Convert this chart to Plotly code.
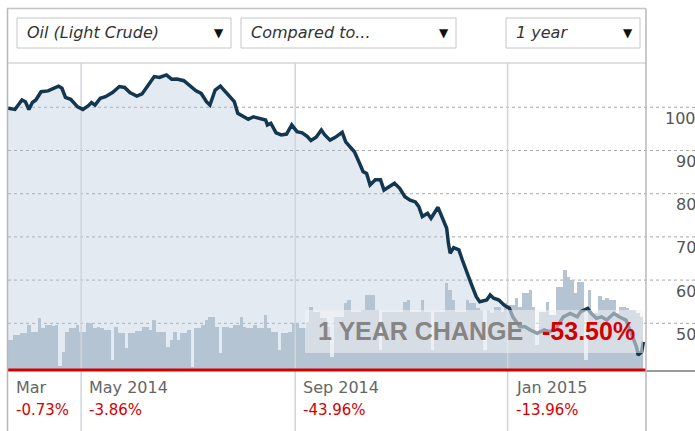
import plotly.graph_objects as go
import pandas as pd

# ---------------- data ----------------
price_dates = [
    "2014-03-20", "2014-03-24", "2014-03-28", "2014-03-30", "2014-04-01", "2014-04-03", "2014-04-05",
    "2014-04-08", "2014-04-12", "2014-04-15", "2014-04-18", "2014-04-20", "2014-04-22", "2014-04-25",
    "2014-04-27", "2014-04-29", "2014-05-02", "2014-05-05", "2014-05-07", "2014-05-09", "2014-05-12",
    "2014-05-15", "2014-05-19", "2014-05-23", "2014-05-26", "2014-05-29", "2014-06-02", "2014-06-05",
    "2014-06-08", "2014-06-12", "2014-06-15", "2014-06-19", "2014-06-22", "2014-06-25", "2014-06-29",
    "2014-07-03", "2014-07-06", "2014-07-09", "2014-07-12", "2014-07-14", "2014-07-17", "2014-07-20",
    "2014-07-23", "2014-07-26", "2014-07-28", "2014-07-30", "2014-08-02", "2014-08-05", "2014-08-08",
    "2014-08-11", "2014-08-15", "2014-08-16", "2014-08-18", "2014-08-21", "2014-08-24", "2014-08-27",
    "2014-08-30", "2014-09-02", "2014-09-05", "2014-09-08", "2014-09-10", "2014-09-13", "2014-09-16",
    "2014-09-18", "2014-09-21", "2014-09-24", "2014-09-28", "2014-09-30", "2014-10-02", "2014-10-05",
    "2014-10-08", "2014-10-10", "2014-10-12", "2014-10-14", "2014-10-17", "2014-10-20", "2014-10-22",
    "2014-10-25", "2014-10-28", "2014-10-31", "2014-11-03", "2014-11-06", "2014-11-09", "2014-11-11",
    "2014-11-13", "2014-11-16", "2014-11-18", "2014-11-22", "2014-11-24", "2014-11-27", "2014-11-28",
    "2014-11-29", "2014-12-01", "2014-12-04", "2014-12-06", "2014-12-08", "2014-12-11", "2014-12-14",
    "2014-12-16", "2014-12-20", "2014-12-22", "2014-12-24", "2014-12-27", "2014-12-30", "2015-01-02",
    "2015-01-04", "2015-01-08", "2015-01-11", "2015-01-14", "2015-01-18", "2015-01-22", "2015-01-25",
    "2015-01-29", "2015-02-02", "2015-02-06", "2015-02-10", "2015-02-12", "2015-02-16", "2015-02-18",
    "2015-02-21", "2015-02-24", "2015-02-27", "2015-03-03", "2015-03-06", "2015-03-10", "2015-03-13",
    "2015-03-16", "2015-03-17", "2015-03-19", "2015-03-20",
]
price_values = [
    99.8, 99.5, 101.7, 101.3, 99.5, 101.1, 101.7,
    103.6, 103.8, 104.4, 104.9, 104.4, 102.3, 101.85,
    101.1, 100.1, 99.5, 100.3, 101.1, 100.5, 102.1,
    102.45, 103.4, 104.8, 104.6, 103.4, 102.6, 103.1,
    104.8, 107.1, 106.9, 107.5, 106.5, 106.55, 106.15,
    104.8, 103.8, 103.2, 101.3, 100.5, 104.0, 104.9,
    103.6, 102.45, 101.3, 98.6, 98.0, 97.2, 97.8,
    97.45, 97.05, 95.9, 96.3, 94.1, 93.6, 93.8,
    95.9, 94.35, 94.1, 93.2, 92.3, 93.05, 94.75,
    93.6, 92.4, 93.05, 94.2, 92.0, 91.0, 89.7,
    87.0, 85.1, 84.7, 82.0, 83.2, 83.2, 80.85,
    81.6, 82.4, 81.25, 79.3, 78.5, 78.1, 77.0,
    74.7, 75.45, 74.3, 76.85, 75.1, 72.0, 68.5,
    66.2, 67.5, 67.0, 64.65, 62.7, 59.25, 56.15,
    55.0, 55.4, 56.55, 55.8, 55.4, 54.2, 53.5,
    51.5, 49.2, 49.2, 48.45, 47.7, 48.45, 48.05,
    48.85, 51.5, 52.3, 51.5, 52.7, 53.45, 52.3,
    51.15, 51.5, 50.75, 52.3, 51.5, 50.75, 47.7,
    44.6, 42.65, 43.4, 45.7,
]

# relative trading volume, one bar per two days starting at volume_start
volume_start = "2014-03-20"
volume_values = [
    30, 30, 35, 35, 37, 37, 45, 38, 38, 52,
    42, 45, 45, 44, 45, 4, 18, 38, 42, 42,
    45, 38, 38, 47, 47, 42, 43, 42, 40, 40,
    10, 43, 37, 37, 22, 37, 37, 39, 39, 43,
    43, 40, 50, 38, 38, 38, 23, 30, 38, 30,
    37, 37, 40, 3, 42, 42, 45, 50, 53, 53,
    43, 17, 43, 43, 42, 45, 45, 53, 43, 42,
    42, 45, 42, 42, 55, 42, 38, 38, 20, 37,
    37, 38, 47, 47, 42, 42, 48, 63, 58, 58,
    52, 52, 43, 13, 53, 53, 53, 67, 70, 58,
    58, 58, 60, 75, 75, 75, 60, 20, 58, 58,
    58, 58, 58, 58, 68, 70, 58, 58, 58, 70,
    58, 58, 20, 58, 58, 58, 87, 80, 70, 58,
    58, 58, 70, 67, 67, 62, 60, 20, 60, 57,
    63, 63, 58, 67, 65, 65, 72, 63, 77, 77,
    80, 63, 25, 58, 58, 68, 55, 55, 83, 83,
    100, 93, 90, 77, 88, 88, 10, 80, 57, 57,
    74, 70, 72, 70, 70, 57, 63, 63, 62, 60,
    60, 57, 53,
]
volume_dates = pd.date_range(volume_start, periods=len(volume_values), freq="2D")

y_ticks = [100, 90, 80, 70, 60, 50]
month_ticks = ["2014-05-01", "2014-09-01", "2015-01-01"]
period_dates = ["2014-03-20", "2014-05-01", "2014-09-01", "2015-01-01"]
period_labels = ["Mar", "May 2014", "Sep 2014", "Jan 2015"]
period_changes = ["-0.73%", "-3.86%", "-43.96%", "-13.96%"]
year_change_label = "1 YEAR CHANGE"
year_change = "-53.50%"
dropdown_labels = ["Oil (Light Crude)", "Compared to...", "1 year"]

x_range = ["2014-03-20", "2015-03-21 12:00"]
price_range = [39.19, 110.25]
volume_range = [0, 307]

# ---------------- geometry helpers ----------------
W, H = 695, 431
ML, MR, MT, MB = 8, 49, 63, 61
PW = W - ML - MR
PH = H - MT - MB


def px(x):
    return (x - ML) / PW


def py(y):
    return (H - MB - y) / PH


FONT = "DejaVu Sans, Liberation Sans, Arial, sans-serif"
BIG_FONT = "Liberation Sans, Arial, sans-serif"
NAVY = "#12374f"
RED = "#d40000"

fig = go.Figure()

# area under the price line
fig.add_trace(go.Scatter(
    x=price_dates, y=price_values, mode="lines", fill="tozeroy",
    fillcolor="rgba(178,196,214,0.35)", line=dict(width=0, color="rgba(0,0,0,0)"),
    yaxis="y", hoverinfo="skip", showlegend=False))

# volume bars
fig.add_trace(go.Bar(
    x=volume_dates, y=volume_values, width=2 * 86400000,
    marker=dict(color="#b4c4d3", line=dict(width=0)),
    yaxis="y2", hoverinfo="skip", showlegend=False))

# vertical month gridlines (inside the plot, above the bars)
gx, gy = [], []
for d in month_ticks:
    gx += [d, d, None]
    gy += [volume_range[0], volume_range[1], None]
fig.add_trace(go.Scatter(
    x=gx, y=gy, mode="lines", line=dict(color="#d0d5db", width=1.5),
    yaxis="y2", hoverinfo="skip", showlegend=False))

# price line
fig.add_trace(go.Scatter(
    x=price_dates, y=price_values, mode="lines",
    line=dict(color=NAVY, width=3.5), yaxis="y3",
    hoverinfo="skip", showlegend=False))

shapes = []
annotations = []

# dotted horizontal gridlines (extend past the plot to the right edge)
for v in y_ticks:
    shapes.append(dict(type="line", xref="paper", yref="y", x0=0, x1=px(W), y0=v, y1=v,
                       line=dict(color="#a8a8a8", width=1, dash="dot"), layer="below"))
    annotations.append(dict(xref="paper", yref="y", x=px(698), y=v, xanchor="right",
                            yanchor="middle", yshift=-11, showarrow=False, text=str(v),
                            font=dict(family=FONT, size=16, color="#555555")))

# month separator lines in the label strip
for d in month_ticks:
    shapes.append(dict(type="line", xref="x", yref="paper", x0=d, x1=d, y0=py(H), y1=0,
                       line=dict(color="#d0d5db", width=1.5), layer="above"))

# "1 year change" overlay
shapes.append(dict(type="rect", xref="paper", yref="paper", x0=px(305), x1=px(643),
                   y0=py(353), y1=py(310), fillcolor="rgba(242,243,244,0.55)",
                   line=dict(width=0), layer="above"))
annotations.append(dict(xref="paper", yref="paper", x=px(316), y=py(331), xanchor="left",
                        yanchor="middle", showarrow=False, text="<b>" + year_change_label + "</b>",
                        font=dict(family=BIG_FONT, size=25, color="#878484")))
annotations.append(dict(xref="paper", yref="paper", x=px(637), y=py(331), xanchor="right",
                        yanchor="middle", showarrow=False, text="<b>" + year_change + "</b>",
                        font=dict(family=BIG_FONT, size=25, color=RED)))

# red baseline and gray continuation
shapes.append(dict(type="line", xref="paper", yref="paper", x0=0, x1=1, y0=0, y1=0,
                   line=dict(color=RED, width=3), layer="above"))
shapes.append(dict(type="line", xref="paper", yref="paper", x0=1, x1=px(W), y0=py(371), y1=py(371),
                   line=dict(color="#9a9a9a", width=2), layer="above"))

# frame
frame_col = "#c4c4c4"
shapes.append(dict(type="line", xref="paper", yref="paper", x0=px(7), x1=px(646), y0=py(8.5), y1=py(8.5),
                   line=dict(color=frame_col, width=1.5), layer="above"))
shapes.append(dict(type="line", xref="paper", yref="paper", x0=px(7), x1=px(646), y0=py(63), y1=py(63),
                   line=dict(color="#d6d6d6", width=1.5), layer="above"))
shapes.append(dict(type="line", xref="paper", yref="paper", x0=px(7.5), x1=px(7.5), y0=py(H), y1=py(8.5),
                   line=dict(color="#b8b8b8", width=1.5), layer="above"))
shapes.append(dict(type="line", xref="paper", yref="paper", x0=px(646), x1=px(646), y0=py(H), y1=py(8.5),
                   line=dict(color="#b8b8b8", width=1.5), layer="above"))

# dropdowns
dropdown_boxes = [(17, 231), (241, 456), (506, 640)]
for (x0, x1), lab in zip(dropdown_boxes, dropdown_labels):
    shapes.append(dict(type="rect", xref="paper", yref="paper", x0=px(x0), x1=px(x1),
                       y0=py(48), y1=py(18), fillcolor="white",
                       line=dict(color="#c6c6c6", width=1), layer="above"))
    annotations.append(dict(xref="paper", yref="paper", x=px(x0 + 8), y=py(33), xanchor="left",
                            yanchor="middle", showarrow=False, text="<i>" + lab + "</i>",
                            font=dict(family=FONT, size=16, color="#333333")))
    annotations.append(dict(xref="paper", yref="paper", x=px(x1 - 12), y=py(33), xanchor="center",
                            yanchor="middle", showarrow=False, text="▼",
                            font=dict(family=FONT, size=12, color="#111111")))

# period labels under the chart
for d, lab, ch in zip(period_dates, period_labels, period_changes):
    annotations.append(dict(xref="x", yref="paper", x=d, y=0, xanchor="left", yanchor="middle",
                            xshift=6, yshift=-17, showarrow=False, text=lab,
                            font=dict(family=FONT, size=16, color="#666666")))
    annotations.append(dict(xref="x", yref="paper", x=d, y=0, xanchor="left", yanchor="middle",
                            xshift=6, yshift=-40, showarrow=False, text=ch,
                            font=dict(family=FONT, size=15, color=RED)))

fig.update_layout(
    width=W, height=H,
    margin=dict(l=ML, r=MR, t=MT, b=MB),
    paper_bgcolor="white", plot_bgcolor="white",
    showlegend=False, bargap=0,
    xaxis=dict(type="date", range=x_range, visible=False, fixedrange=True),
    yaxis=dict(range=price_range, visible=False, fixedrange=True),
    yaxis2=dict(range=volume_range, overlaying="y", visible=False, fixedrange=True),
    yaxis3=dict(range=price_range, overlaying="y", visible=False, fixedrange=True),
    shapes=shapes, annotations=annotations,
)

fig.write_html("out.html", config={"displayModeBar": False})
